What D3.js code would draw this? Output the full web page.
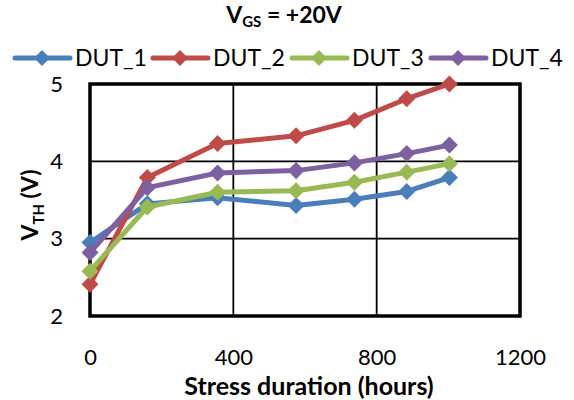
<!DOCTYPE html>
<html>
<head>
<meta charset="utf-8">
<script src="https://cdn.jsdelivr.net/npm/d3@7"></script>
<style>
  body { margin: 0; background: #fff; }
  text { font-family: Lato, "Open Sans", sans-serif; }
</style>
</head>
<body>
<section></section>
<script>
// data
var hours = [0, 160, 356, 575, 738, 884, 1003];
var dut1 = [2.95, 3.45, 3.53, 3.43, 3.51, 3.61, 3.79];
var dut2 = [2.41, 3.79, 4.23, 4.33, 4.53, 4.81, 5.0];
var dut3 = [2.58, 3.41, 3.60, 3.62, 3.73, 3.86, 3.97];
var dut4 = [2.82, 3.66, 3.85, 3.88, 3.98, 4.10, 4.21];
var seriesNames = ["DUT_1", "DUT_2", "DUT_3", "DUT_4"];
var seriesColors = ["#4a7ebb", "#be4b48", "#98b954", "#7d60a0"];
var xTicks = [0, 400, 800, 1200];
var yTicks = [2, 3, 4, 5];

var series = [dut1, dut2, dut3, dut4];

// set the dimensions and margins of the diagram
var margin = {top: 84, right: 54, bottom: 84, left: 90},
  width = 574 - margin.left - margin.right,
  height = 400 - margin.top - margin.bottom;

var svg = d3.select("section").append("svg")
      .attr("width", 574)
      .attr("height", 400),
    g = svg.append("g")
      .attr("transform", "translate(" + margin.left + "," + margin.top + ")");

var x = d3.scaleLinear().domain([0, 1200]).range([0, width]);
var y = d3.scaleLinear().domain([2, 5]).range([height, 0]);

// gridlines
g.selectAll(".hgrid")
  .data(yTicks)
  .enter().append("line")
  .attr("x1", 0).attr("x2", width)
  .attr("y1", function(d) { return y(d); })
  .attr("y2", function(d) { return y(d); })
  .attr("stroke", "#000").attr("stroke-width", 1.8);

g.selectAll(".vgrid")
  .data(xTicks)
  .enter().append("line")
  .attr("y1", 0).attr("y2", height)
  .attr("x1", function(d) { return x(d); })
  .attr("x2", function(d) { return x(d); })
  .attr("stroke", "#000").attr("stroke-width", 1.8);

// plot frame
g.append("rect")
  .attr("width", width).attr("height", height)
  .attr("fill", "none").attr("stroke", "#000").attr("stroke-width", 3.5);

// axes (labels only)
var xAxis = g.append("g")
  .attr("transform", "translate(0," + (height + 30) + ")")
  .call(d3.axisBottom(x).tickValues(xTicks).tickSize(0).tickFormat(d3.format("d")));
xAxis.select(".domain").remove();
xAxis.selectAll("text").attr("font-size", 22).attr("fill", "#000")
  .style("font-family", "Lato, 'Open Sans', sans-serif");

var yAxis = g.append("g")
  .attr("transform", "translate(-24,0)")
  .call(d3.axisLeft(y).tickValues(yTicks).tickSize(0).tickFormat(d3.format("d")));
yAxis.select(".domain").remove();
yAxis.selectAll("text").attr("font-size", 22).attr("fill", "#000")
  .style("font-family", "Lato, 'Open Sans', sans-serif");

var line = d3.line()
  .x(function(d, i) { return x(hours[i]); })
  .y(function(d) { return y(d); });

series.forEach(function(s, k) {
  g.append("path")
    .datum(s)
    .attr("fill", "none")
    .attr("stroke", seriesColors[k])
    .attr("stroke-width", 5)
    .attr("stroke-linejoin", "round")
    .attr("d", line);

  g.selectAll(".pt" + k)
    .data(s)
    .enter().append("path")
    .attr("d", d3.symbol().type(d3.symbolSquare).size(145))
    .attr("fill", seriesColors[k])
    .attr("transform", function(d, i) {
      return "translate(" + x(hours[i]) + "," + y(d) + ") rotate(45)"; });
});

// title
var title = svg.append("text")
  .attr("x", 284).attr("y", 23)
  .attr("text-anchor", "middle")
  .attr("font-size", 23).attr("font-weight", "bold");
title.append("tspan").text("V");
title.append("tspan").attr("font-size", 15).attr("dy", 4).text("GS");
title.append("tspan").attr("dy", -4).text(" = +20V");

// legend
var legendX = [15, 153, 292, 431];
var legend = svg.selectAll(".legend")
  .data(seriesNames)
  .enter().append("g")
  .attr("transform", function(d, i) { return "translate(" + legendX[i] + ",58)"; });

legend.append("line")
  .attr("x1", 0).attr("x2", 55)
  .attr("stroke", function(d, i) { return seriesColors[i]; })
  .attr("stroke-width", 5).attr("stroke-linecap", "round");
legend.append("path")
  .attr("d", d3.symbol().type(d3.symbolSquare).size(130))
  .attr("fill", function(d, i) { return seriesColors[i]; })
  .attr("transform", "translate(27,0) rotate(45)");
legend.append("text")
  .attr("x", 60).attr("dy", "0.36em")
  .attr("font-size", 23)
  .text(function(d) { return d; });

// axis titles
svg.append("text")
  .attr("x", 309).attr("y", 395)
  .attr("text-anchor", "middle")
  .attr("font-size", 25).attr("font-weight", "bold")
  .text("Stress duration (hours)");

var ylab = svg.append("text")
  .attr("transform", "translate(38,205) rotate(-90)")
  .attr("text-anchor", "middle")
  .attr("font-size", 23).attr("font-weight", "bold");
ylab.append("tspan").text("V");
ylab.append("tspan").attr("font-size", 15).attr("dy", 6).text("TH");
ylab.append("tspan").attr("dy", -6).text(" (V)");
</script>
</body>
</html>
